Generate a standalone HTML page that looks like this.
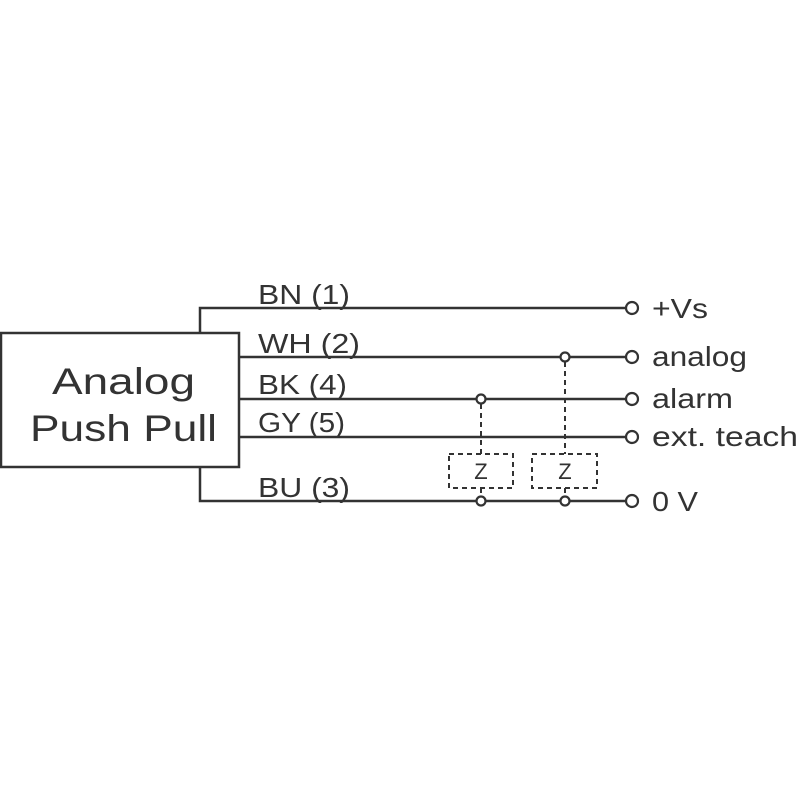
<!DOCTYPE html>
<html><head><style>body{margin:0;background:#fff}</style></head><body>
<svg width="800" height="800" xmlns="http://www.w3.org/2000/svg" font-family="Liberation Sans, sans-serif" fill="#333">
<g stroke="#333" stroke-width="2.5" fill="none">
<rect x="1" y="333" width="238" height="134"/>
<polyline points="200,333 200,308 626,308"/>
<line x1="240" y1="357" x2="626" y2="357"/>
<line x1="240" y1="399" x2="626" y2="399"/>
<line x1="240" y1="437" x2="626" y2="437"/>
<polyline points="200,468 200,501 626,501"/>
</g>
<g stroke="#333" stroke-width="2" stroke-dasharray="5,4" fill="none">
<rect x="449" y="454" width="64" height="34"/>
<rect x="532" y="454" width="65" height="34"/>
<line x1="481" y1="404" x2="481" y2="454"/>
<line x1="565" y1="362" x2="565" y2="454"/>
<line x1="481" y1="488" x2="481" y2="496"/>
<line x1="565" y1="488" x2="565" y2="496"/>
</g>
<g stroke="#333" stroke-width="2.2" fill="#fff">
<circle cx="632" cy="308" r="6"/><circle cx="632" cy="357" r="6"/><circle cx="632" cy="399" r="6"/><circle cx="632" cy="437" r="6"/><circle cx="632" cy="501" r="6"/>
<circle cx="565" cy="357" r="4.5"/><circle cx="481" cy="399" r="4.5"/><circle cx="481" cy="501" r="4.5"/><circle cx="565" cy="501" r="4.5"/>
</g>
<g font-size="37" lengthAdjust="spacingAndGlyphs"><text x="52" y="394" textLength="143" lengthAdjust="spacingAndGlyphs">Analog</text><text x="30" y="441" textLength="187" lengthAdjust="spacingAndGlyphs">Push Pull</text></g>
<g font-size="28">
<text x="258" y="304" textLength="92" lengthAdjust="spacingAndGlyphs">BN (1)</text>
<text x="258" y="353" textLength="102" lengthAdjust="spacingAndGlyphs">WH (2)</text>
<text x="258" y="394" textLength="89" lengthAdjust="spacingAndGlyphs">BK (4)</text>
<text x="258" y="432" textLength="87" lengthAdjust="spacingAndGlyphs">GY (5)</text>
<text x="258" y="497" textLength="92" lengthAdjust="spacingAndGlyphs">BU (3)</text>
<text x="652" y="318" textLength="56" lengthAdjust="spacingAndGlyphs">+Vs</text>
<text x="652" y="366" textLength="95" lengthAdjust="spacingAndGlyphs">analog</text>
<text x="652" y="408" textLength="81" lengthAdjust="spacingAndGlyphs">alarm</text>
<text x="652" y="446" textLength="146" lengthAdjust="spacingAndGlyphs">ext. teach</text>
<text x="652" y="511" textLength="46" lengthAdjust="spacingAndGlyphs">0 V</text></g>
<g font-size="22" text-anchor="middle"><text x="481" y="479">Z</text><text x="565" y="479">Z</text></g>
</svg>
</body></html>
